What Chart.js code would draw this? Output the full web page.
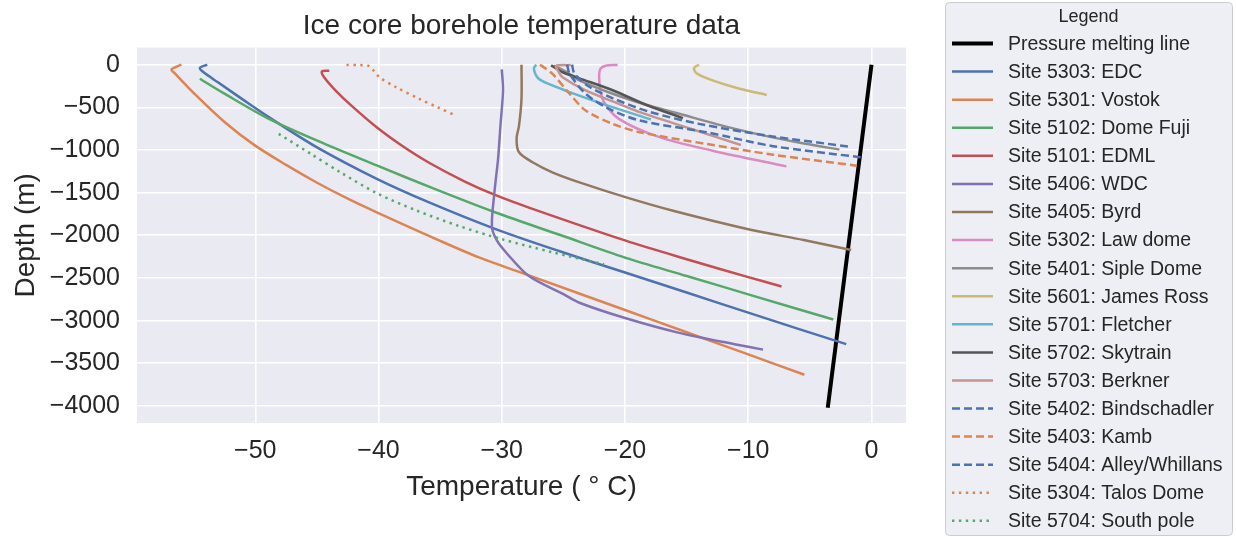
<!DOCTYPE html>
<html>
<head>
<meta charset="utf-8">
<title>Ice core borehole temperature data</title>
<script src="https://cdn.jsdelivr.net/npm/chart.js@4.4.0/dist/chart.umd.min.js"></script>
<style>
  html, body { margin: 0; padding: 0; background: #ffffff; }
  canvas { display: block; }
</style>
</head>
<body>
<canvas id="boreholeChart" width="1236" height="537"></canvas>
<script>
// Borehole profiles: [temperature (degC), depth (m)]
const pressureMelting = [[0, 0], [-3.55, -4020]];
const site5303 = [[-53.9, 0], [-54.5, -40], [-54.2, -90], [-53, -210], [-51, -410], [-48.9, -615], [-45.1, -960], [-40.1, -1341], [-35.9, -1614], [-30.5, -1927], [-25.3, -2187], [-20, -2436], [-15, -2671], [-10, -2906], [-6, -3094], [-2.05, -3276]];
const site5301 = [[-56.0, 0], [-56.8, -55], [-56.5, -106], [-54.8, -361], [-52.5, -672], [-50.1, -940], [-47.5, -1175], [-45.1, -1375], [-42.5, -1570], [-40.1, -1733], [-35, -2065], [-31.8, -2262], [-27.8, -2470], [-20, -2876], [-15, -3136], [-10, -3396], [-5.44, -3634]];
const site5102 = [[-54.5, -165], [-52.5, -340], [-48.9, -635], [-44.5, -920], [-40.1, -1184], [-35.3, -1465], [-30.5, -1733], [-25.2, -2000], [-20, -2262], [-15, -2477], [-10, -2692], [-3.1, -2987]];
const site5101 = [[-44.0, -70], [-44.6, -79], [-44.4, -150], [-43.5, -300], [-42.2, -480], [-40.1, -740], [-38, -960], [-35.9, -1150], [-33, -1370], [-30.5, -1530], [-27.8, -1675], [-20, -2060], [-15, -2280], [-10, -2490], [-7.3, -2600]];
const site5406 = [[-30.0, -55], [-29.9, -300], [-30.1, -700], [-30.3, -1100], [-30.6, -1500], [-30.8, -1900], [-30.4, -2060], [-29.6, -2210], [-27.8, -2478], [-25, -2690], [-23.7, -2791], [-20, -2970], [-15.6, -3144], [-11, -3280], [-8.8, -3340]];
const site5405 = [[-28.4, 0], [-28.4, -400], [-28.6, -714], [-28.8, -870], [-28.6, -1027], [-27.5, -1144], [-25.9, -1262], [-23.7, -1380], [-19.9, -1556], [-16.1, -1713], [-10, -1929], [-5.5, -2055], [-1.65, -2172]];
const site5302 = [[-20.6, -5], [-21.5, -10], [-22.0, -50], [-22.1, -150], [-22.0, -300], [-21.7, -440], [-20.5, -635], [-17.2, -850], [-12.9, -1008], [-6.9, -1192]];
const site5401 = [[-25.8, -10], [-24.8, -80], [-23.7, -184], [-21.0, -341], [-18.3, -470], [-15.6, -576], [-12.5, -700], [-9.35, -811], [-6, -910], [-2.6, -996]];
const site5601 = [[-14.0, 0], [-14.4, -40], [-14.2, -100], [-12.9, -184], [-10.7, -282], [-8.5, -355]];
const site5701 = [[-27.2, 0], [-27.4, -47], [-27.0, -165], [-25.9, -243], [-24.5, -321], [-21.8, -459], [-17.9, -643]];
const site5702 = [[-26.0, -8], [-25.1, -86], [-23.7, -160], [-21.0, -300], [-18.3, -470], [-15.3, -627]];
const site5703 = [[-24.4, -5], [-25.6, -15], [-25.4, -80], [-25.1, -145], [-23.2, -302], [-20.5, -459], [-18.8, -557], [-14.8, -745], [-10.6, -941]];
const site5402 = [[-24.3, 0], [-24.1, -106], [-22.9, -259], [-20.9, -400], [-18.0, -553], [-14.0, -694], [-8.3, -835], [-1.6, -965]];
const site5403 = [[-26.9, 0], [-25.9, -106], [-24.5, -341], [-23.2, -537], [-21.0, -694], [-18.8, -792], [-13.4, -929], [-8.0, -1055], [-1.2, -1184]];
const site5404 = [[-24.7, 0], [-24.5, -106], [-23.2, -341], [-21.3, -517], [-18.8, -655], [-13.4, -792], [-8.0, -955], [-0.85, -1086]];
const site5304 = [[-42.6, -5], [-41.5, -5], [-40.8, -15], [-40.4, -70], [-39.9, -150], [-38.6, -262], [-36.7, -400], [-35.2, -500], [-33.7, -600]];
const site5704 = [[-48.1, -811], [-45.5, -1045], [-43, -1270], [-40.1, -1510], [-37, -1705], [-33.5, -1890], [-30, -2045], [-26, -2195], [-21.7, -2340]];

const seriesNames = ['Pressure melting line', 'Site 5303: EDC', 'Site 5301: Vostok', 'Site 5102: Dome Fuji',
  'Site 5101: EDML', 'Site 5406: WDC', 'Site 5405: Byrd', 'Site 5302: Law dome', 'Site 5401: Siple Dome',
  'Site 5601: James Ross', 'Site 5701: Fletcher', 'Site 5702: Skytrain', 'Site 5703: Berkner',
  'Site 5402: Bindschadler', 'Site 5403: Kamb', 'Site 5404: Alley/Whillans', 'Site 5304: Talos Dome',
  'Site 5704: South pole'];
const seriesData = [pressureMelting, site5303, site5301, site5102, site5101, site5406, site5405, site5302,
  site5401, site5601, site5701, site5702, site5703, site5402, site5403, site5404, site5304, site5704];

const xTicks = [-50, -40, -30, -20, -10, 0];
const yTicks = [0, -500, -1000, -1500, -2000, -2500, -3000, -3500, -4000];

// styles
const lineColors = ['#000000', '#4C72B0', '#DD8452', '#55A868', '#C44E52', '#8172B3', '#937860', '#DA8BC3',
  '#8C8C8C', '#CCB974', '#64B5CD', '#555555', '#C49490', '#4C72B0', '#DD8452', '#4C72B0', '#DD8452', '#55A868'];
const lineStyles = ['-', '-', '-', '-', '-', '-', '-', '-', '-', '-', '-', '-', '-', '--', '--', '--', ':', ':'];
const dashFor = { '-': [], '--': [8, 4], ':': [2.4, 4.5] };

const FONT = '"Liberation Sans", Arial, Helvetica, sans-serif';
const TEXT = '#262626';

function minusLabel(v) {
    return v < 0 ? '\u2212' + Math.abs(v) : String(v);
}

const plotBackground = {
    id: 'plotBackground',
    beforeDraw(chart) {
        const a = chart.chartArea;
        const ctx = chart.ctx;
        ctx.save();
        ctx.fillStyle = '#EAEAF2';
        ctx.fillRect(a.left, a.top, a.right - a.left, a.bottom - a.top);
        ctx.restore();
    }
};

// legend box on the right, matplotlib style
const legendBox = {
    id: 'legendBox',
    afterDraw(chart) {
        const ctx = chart.ctx;
        const x0 = 945, y0 = 2, w = 287, h = 533;
        ctx.save();
        ctx.fillStyle = '#EEEEF5';
        ctx.strokeStyle = '#CCCCCC';
        ctx.lineWidth = 1;
        ctx.beginPath();
        ctx.roundRect(x0 + 0.5, y0 + 0.5, w, h, 4);
        ctx.fill();
        ctx.stroke();

        ctx.fillStyle = TEXT;
        ctx.textAlign = 'center';
        ctx.textBaseline = 'middle';
        ctx.font = '18px ' + FONT;
        ctx.fillText('Legend', x0 + w / 2, 17);

        ctx.textAlign = 'left';
        ctx.font = '19.5px ' + FONT;
        chart.data.datasets.forEach((ds, i) => {
            const y = 43.5 + i * 28.08;
            ctx.strokeStyle = ds.borderColor;
            ctx.lineWidth = ds.borderWidth;
            ctx.setLineDash(ds.borderDash);
            ctx.beginPath();
            ctx.moveTo(952, y);
            ctx.lineTo(993, y);
            ctx.stroke();
            ctx.setLineDash([]);
            ctx.fillText(ds.label, 1008, y + 1);
        });
        ctx.restore();
    }
};

const datasets = seriesData.map((pts, i) => ({
    label: seriesNames[i],
    data: pts.map(p => ({ x: p[0], y: p[1] })),
    showLine: true,
    borderColor: lineColors[i],
    backgroundColor: lineColors[i],
    borderWidth: i === 0 ? 4 : 2.5,
    borderDash: dashFor[lineStyles[i]],
    pointRadius: 0,
    tension: 0.3,
    order: -i
}));

new Chart(document.getElementById('boreholeChart'), {
    type: 'scatter',
    data: { datasets: datasets },
    options: {
        responsive: false,
        animation: false,
        devicePixelRatio: 1,
        layout: { padding: { left: 0, right: 330, top: 0, bottom: 0 } },
        plugins: {
            legend: { display: false },
            tooltip: { enabled: false },
            title: {
                display: true,
                text: 'Ice core borehole temperature data',
                fullSize: false,
                color: TEXT,
                font: { family: FONT, size: 28, weight: 'normal' },
                padding: { top: 9, bottom: 5 }
            }
        },
        scales: {
            x: {
                type: 'linear',
                min: -59.6,
                max: 2.8,
                afterBuildTicks: s => { s.ticks = xTicks.map(v => ({ value: v })); },
                afterFit: s => { s.height = 114; },
                grid: { color: '#FFFFFF', lineWidth: 1.6, drawTicks: false },
                border: { display: false },
                ticks: {
                    color: TEXT,
                    font: { family: FONT, size: 25 },
                    padding: 13,
                    maxRotation: 0,
                    callback: v => minusLabel(v)
                },
                title: {
                    display: true,
                    text: 'Temperature ( \u00B0 C)',
                    color: TEXT,
                    font: { family: FONT, size: 28 },
                    padding: { top: 0, bottom: 33 }
                }
            },
            y: {
                type: 'linear',
                min: -4200,
                max: 200,
                afterBuildTicks: s => { s.ticks = yTicks.map(v => ({ value: v })); },
                afterFit: s => { s.width = 137; },
                grid: { color: '#FFFFFF', lineWidth: 1.6, drawTicks: false },
                border: { display: false },
                ticks: {
                    color: TEXT,
                    font: { family: FONT, size: 25 },
                    padding: 17,
                    callback: v => minusLabel(v)
                },
                title: {
                    display: true,
                    text: 'Depth (m)',
                    color: TEXT,
                    font: { family: FONT, size: 28 },
                    padding: { top: 9, bottom: 0 }
                }
            }
        }
    },
    plugins: [plotBackground, legendBox]
});
</script>
</body>
</html>
